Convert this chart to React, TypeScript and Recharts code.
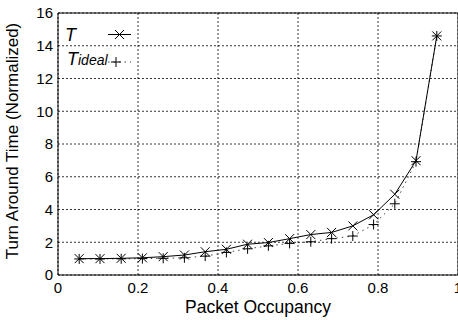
import React from "react";
import {
  LineChart,
  Line,
  XAxis,
  YAxis,
  CartesianGrid,
  ReferenceArea,
} from "recharts";

// Packet occupancy sampled at k/19 (k = 1..18)
const occupancy = [
  0.053, 0.105, 0.158, 0.211, 0.263, 0.316, 0.368, 0.421, 0.474, 0.526, 0.579,
  0.632, 0.684, 0.737, 0.789, 0.842, 0.895, 0.947,
];
const tActual = [
  1.0, 1.0, 1.02, 1.05, 1.12, 1.22, 1.42, 1.57, 1.88, 1.98, 2.22, 2.47, 2.6,
  3.0, 3.68, 4.93, 6.98, 14.6,
];
const tIdeal = [
  0.98, 0.98, 0.99, 1.0, 1.02, 1.05, 1.15, 1.38, 1.6, 1.78, 1.93, 2.03, 2.22,
  2.38, 3.08, 4.35, 6.92, 14.6,
];
const xTicks = [0, 0.2, 0.4, 0.6, 0.8, 1];
const yTicks = [0, 2, 4, 6, 8, 10, 12, 14, 16];

const data = occupancy.map((x, i) => ({ x, t: tActual[i], ideal: tIdeal[i] }));

const FONT = '"Liberation Sans", Arial, Helvetica, sans-serif';

function Cross(props: any) {
  const { cx, cy } = props;
  if (cx == null || cy == null) return <g key={props.key} />;
  const s = 4.5;
  return (
    <g key={`t-${props.index}`} stroke="#000" strokeWidth={1}>
      <line x1={cx - s} y1={cy - s} x2={cx + s} y2={cy + s} />
      <line x1={cx - s} y1={cy + s} x2={cx + s} y2={cy - s} />
    </g>
  );
}

function Plus(props: any) {
  const { cx, cy } = props;
  if (cx == null || cy == null) return <g key={props.key} />;
  const s = 5;
  return (
    <g key={`i-${props.index}`} stroke="#000" strokeWidth={1}>
      <line x1={cx - s} y1={cy} x2={cx + s} y2={cy} />
      <line x1={cx} y1={cy - s} x2={cx} y2={cy + s} />
    </g>
  );
}

function KeyBox() {
  return (
    <svg
      width={140}
      height={75}
      style={{ position: "absolute", left: 0, top: 0, pointerEvents: "none" }}
    >
      <text x={65} y={41} fontFamily={FONT} fontSize={18} fontStyle="italic">
        T
      </text>
      <line x1={108} y1={34.5} x2={131} y2={34.5} stroke="#000" />
      <Cross cx={119.5} cy={34.5} index="k" />
      <text x={67} y={65} fontFamily={FONT} fontSize={18} fontStyle="italic">
        T
        <tspan fontSize={14}>ideal</tspan>
      </text>
      <line
        x1={108}
        y1={62}
        x2={131}
        y2={62}
        stroke="#444"
        strokeDasharray="1.5 4"
      />
      <Plus cx={116} cy={62} index="k" />
    </svg>
  );
}

export default function App() {
  return (
    <div style={{ position: "absolute", left: 0, top: 0, width: 458, height: 320, overflow: "hidden", background: "#fff" }}>
      <LineChart
        width={470}
        height={320}
        data={data}
        margin={{ top: 13, right: 12, bottom: 0, left: 0 }}
      >
        <CartesianGrid stroke="#000" strokeDasharray="2 2" strokeWidth={0.8} />
        <XAxis
          dataKey="x"
          type="number"
          domain={[0, 1]}
          ticks={xTicks}
          interval={0}
          height={45}
          tickSize={0}
          tickMargin={7}
          axisLine={false}
          tick={{ fill: "#000", fontSize: 15, fontFamily: FONT }}
          tickFormatter={(v) => String(v)}
          label={{
            value: "Packet Occupancy",
            position: "insideBottom",
            offset: 7,
            style: { fill: "#000", fontSize: 17.5, fontFamily: FONT },
          }}
        />
        <YAxis
          type="number"
          domain={[0, 16]}
          ticks={yTicks}
          interval={0}
          width={58}
          tickSize={0}
          tickMargin={5}
          axisLine={false}
          tick={{ fill: "#000", fontSize: 15, fontFamily: FONT }}
          label={{
            value: "Turn Around Time (Normalized)",
            angle: -90,
            position: "center",
            dx: -17,
            dy: -3,
            style: { fill: "#000", fontSize: 17, fontFamily: FONT, textAnchor: "middle" },
          }}
        />
        <ReferenceArea
          x1={0}
          x2={1}
          y1={0}
          y2={16}
          fill="none"
          stroke="#000"
          strokeWidth={1}
          ifOverflow="visible"
        />
        <Line
          dataKey="ideal"
          type="linear"
          stroke="#444"
          strokeWidth={1}
          strokeDasharray="1.5 4"
          dot={Plus}
          activeDot={false}
          isAnimationActive={false}
        />
        <Line
          dataKey="t"
          type="linear"
          stroke="#000"
          strokeWidth={1}
          dot={Cross}
          activeDot={false}
          isAnimationActive={false}
        />
      </LineChart>
      <KeyBox />
    </div>
  );
}
